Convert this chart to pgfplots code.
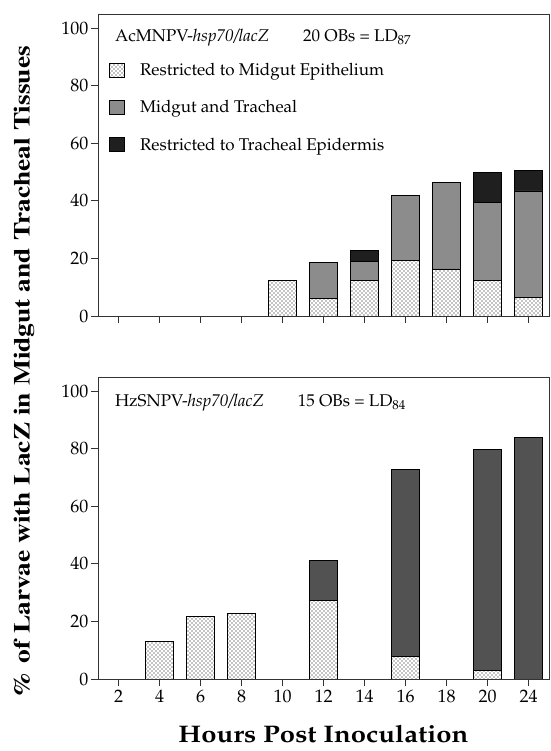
\documentclass[border=0pt]{standalone}
\usepackage[T1]{fontenc}
\usepackage{mathpazo}
\usepackage{graphicx}
\usepackage{pgfplots}
\pgfplotsset{compat=1.18}
\usetikzlibrary{patterns}

\pgfdeclarepatternformonly{bigdots}{\pgfqpoint{-1pt}{-1pt}}{\pgfqpoint{5pt}{5pt}}{\pgfqpoint{4pt}{4pt}}{%
  \pgfpathcircle{\pgfqpoint{0pt}{0pt}}{0.7pt}%
  \pgfpathcircle{\pgfqpoint{2pt}{2pt}}{0.7pt}%
  \pgfusepath{fill}}

\definecolor{mtA}{gray}{0.55}
\definecolor{mtB}{gray}{0.32}
\definecolor{trc}{gray}{0.12}
\definecolor{axc}{gray}{0.2}

\pgfplotstableread{
idx mid mt tr
0 0 0 0
1 0 0 0
2 0 0 0
3 0 0 0
4 12.5 0 0
5 6.3 12.4 0
6 12.5 6.4 3.9
7 19.2 22.6 0
8 16.4 30.1 0
9 12.5 27.0 10.3
10 6.5 37.0 7.2
}\topdata

\pgfplotstableread{
idx mid mt tr
0 0 0 0
1 13.1 0 0
2 21.8 0 0
3 22.9 0 0
4 0 0 0
5 27.2 13.9 0
6 0 0 0
7 8.0 64.8 0
8 0 0 0
9 2.9 76.9 0
10 0 83.9 0
}\botdata

\pgfplotsset{
  panel/.style={
    scale only axis, width=451pt, height=302pt,
    xmin=-0.5, xmax=10.5, ymin=0, ymax=105,
    ybar stacked, bar width=28pt,
    xtick={0,...,10},
    ytick={0,20,...,100},
    tick align=outside, tick pos=left,
    major tick length=7pt,
    /pgf/number format/assume math mode=true,
    axis line style={line width=0.9pt, axc},
    every tick/.style={axc, line width=0.9pt},
    yticklabel style={font=\fontsize{18}{20}\selectfont, xshift=1pt},
    xticklabel style={font=\fontsize{18}{20}\selectfont},
    legend image code/.code={\draw[#1] (0pt,-7pt) rectangle (15pt,7pt);},
  },
  midS/.style={draw=black, line width=0.6pt, pattern=bigdots, pattern color=black},
  mtAS/.style={draw=black, line width=0.6pt, fill=mtA},
  mtBS/.style={draw=black, line width=0.6pt, fill=mtB},
  trS/.style={draw=black, line width=0.6pt, fill=trc},
}

\begin{document}
\begin{tikzpicture}
\useasboundingbox (0,0) rectangle (550pt,751pt);

\begin{axis}[panel, at={(98pt,435pt)}, anchor=south west,
  xticklabels={},
  legend style={at={(0.025,0.838)}, anchor=north west, draw=none, fill=none,
    inner sep=0pt, row sep=22.5pt, font=\fontsize{17}{19}\selectfont,
    nodes={inner sep=0pt},
    /tikz/every odd column/.style={column sep=15pt}},
  legend cell align=left]
\addplot[midS] table[x=idx,y=mid]{\topdata};
\addplot[mtAS] table[x=idx,y=mt]{\topdata};
\addplot[trS] table[x=idx,y=tr]{\topdata};
\legend{Restricted to Midgut Epithelium, Midgut and Tracheal, Restricted to Tracheal Epidermis}
\node[anchor=west, font=\fontsize{17}{19}\selectfont] at (rel axis cs:0.03,0.92)
  {AcMNPV-\textit{hsp70/lacZ}\hspace{2em}20 OBs = LD$_{87}$};
\end{axis}

\begin{axis}[panel, at={(98pt,72pt)}, anchor=south west,
  xticklabels={2,4,6,8,10,12,14,16,18,20,24},
  xlabel={\resizebox{290pt}{\height}{Hours Post Inoculation}},
  xlabel style={font=\fontsize{24}{28}\selectfont\bfseries, yshift=-16pt}]
\addplot[midS] table[x=idx,y=mid]{\botdata};
\addplot[mtBS] table[x=idx,y=mt]{\botdata};
\addplot[trS] table[x=idx,y=tr]{\botdata};
\node[anchor=west, font=\fontsize{17}{19}\selectfont] at (rel axis cs:0.03,0.914)
  {HzSNPV-\textit{hsp70/lacZ}\hspace{2em}15 OBs = LD$_{84}$};
\end{axis}

\node[rotate=90] at (24pt,379pt)
  {\resizebox{652pt}{\height}{\fontfamily{ptm}\fontsize{23}{26}\selectfont\bfseries \% of Larvae with LacZ in Midgut and Tracheal Tissues}};
\end{tikzpicture}
\end{document}
